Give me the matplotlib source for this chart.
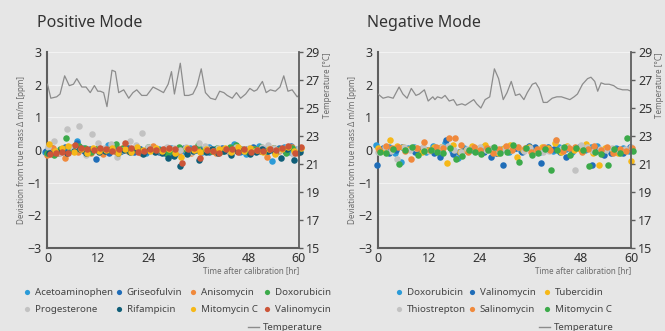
import numpy as np
import matplotlib
matplotlib.use("Agg")
import matplotlib.pyplot as plt
from matplotlib.lines import Line2D

plt.rcParams['font.family'] = ['Noto Sans', 'DejaVu Sans']

BG = '#e6e6e6'
TXT = '#333333'
LBL = '#6b6b6b'
AXC = '#5e5e5e'

# --- measurement times (hr) ---
HOURS = [0, 1.5, 3, 4.5, 6, 7.5, 9, 10.5, 12, 13.5,
         15, 16.5, 18, 19.5, 21, 22.5, 24, 25.5, 27, 28.5,
         30, 31.5, 33, 34.5, 36, 37.5, 39, 40.5, 42, 43.5,
         45, 46.5, 48, 49.5, 51, 52.5, 54, 55.5, 57, 58.5,
         60]

# --- Positive mode ---
POS_NAMES = ['Acetoaminophen', 'Griseofulvin', 'Anisomycin', 'Doxorubicin',
             'Progesterone', 'Rifampicin', 'Mitomycin C', 'Valinomycin']
POS_COLORS = ['#2b9bd8', '#1f6db8', '#f0893c', '#3caa4a',
              '#c2c2c2', '#0f5e78', '#f6b818', '#cc5538']
POS_OFFSET = [-0.5, -0.35, -0.2, -0.05, 0.1, 0.25, 0.4, 0.5]  # acquisition order within a cycle (hr)

pos_acetoaminophen = [-0.05, 0.02, -0.08, 0.05, 0.00, 0.28, 0.06, -0.02, 0.04, -0.06,
                      0.15, 0.00, -0.04, 0.05, -0.02, 0.03, -0.08, 0.00, 0.04, -0.03,
                      0.05, -0.10, -0.03, 0.06, 0.00, -0.05, 0.08, 0.02, -0.04, 0.03,
                      0.17, -0.06, -0.12, 0.05, 0.12, -0.02, -0.35, 0.04, 0.10, -0.05,
                      0.02]
pos_griseofulvin = [-0.02, 0.05, -0.06, 0.10, 0.02, 0.22, -0.04, 0.03, -0.27, 0.01,
                    -0.08, 0.04, -0.02, 0.06, -0.05, 0.02, -0.03, 0.05, -0.06, -0.10,
                    -0.15, 0.02, 0.05, -0.04, 0.00, 0.04, -0.06, 0.03, 0.06, -0.02,
                    0.05, -0.03, 0.02, 0.08, -0.04, 0.03, 0.00, 0.06, -0.02, 0.12,
                    -0.04]
pos_anisomycin = [-0.15, 0.05, -0.10, -0.25, 0.08, -0.05, 0.02, -0.08, 0.04, -0.12,
                  0.03, -0.06, 0.05, -0.02, 0.06, -0.08, 0.02, 0.12, -0.04, 0.06,
                  0.00, -0.05, 0.03, -0.08, 0.05, -0.03, 0.02, -0.10, 0.04, -0.06,
                  0.06, 0.02, -0.05, 0.03, -0.02, -0.20, 0.05, -0.04, 0.02, 0.08,
                  -0.10]
pos_doxorubicin = [-0.08, -0.15, 0.03, 0.38, 0.02, 0.12, 0.05, -0.05, 0.06, 0.02,
                   0.00, 0.18, 0.05, -0.03, 0.04, -0.02, 0.08, -0.04, 0.00, -0.12,
                   -0.05, 0.10, 0.02, -0.04, 0.14, 0.00, -0.03, 0.06, -0.02, 0.10,
                   0.14, 0.04, -0.06, 0.02, 0.08, -0.03, 0.05, 0.02, -0.10, 0.06,
                   0.00]
pos_progesterone = [0.10, 0.28, -0.10, 0.63, 0.05, 0.73, -0.15, 0.49, 0.20, 0.05,
                    0.18, -0.22, 0.00, 0.28, 0.15, 0.52, 0.08, 0.02, -0.05, 0.10,
                    0.05, 0.00, 0.08, -0.06, 0.22, 0.12, 0.02, 0.06, 0.00, -0.08,
                    0.10, 0.03, 0.05, -0.04, 0.08, 0.15, 0.06, 0.00, 0.10, -0.12,
                    0.05]
pos_rifampicin = [-0.10, -0.05, 0.00, -0.08, -0.02, 0.04, -0.10, 0.02, -0.06, -0.03,
                  0.02, -0.08, 0.00, -0.05, 0.03, -0.12, 0.00, -0.06, -0.10, -0.25,
                  -0.18, -0.50, -0.12, -0.02, -0.30, -0.05, 0.02, -0.08, -0.03, -0.15,
                  -0.04, 0.00, -0.12, -0.06, 0.02, -0.03, -0.08, -0.25, 0.03, -0.30,
                  -0.05]
pos_mitomycin = [0.18, -0.02, 0.06, 0.12, -0.05, 0.03, -0.10, 0.05, -0.04, 0.00,
                 0.06, -0.08, 0.02, -0.05, 0.08, 0.00, -0.03, 0.06, -0.02, 0.04,
                 -0.08, -0.20, 0.05, 0.00, -0.06, 0.03, -0.04, 0.02, 0.06, -0.05,
                 0.10, -0.03, 0.05, 0.00, -0.06, 0.02, -0.12, 0.04, 0.08, -0.02,
                 0.06]
pos_valinomycin = [-0.12, -0.10, -0.05, -0.08, 0.15, 0.05, 0.02, 0.00, 0.06, 0.02,
                   -0.02, 0.04, 0.20, 0.05, -0.06, -0.04, 0.03, 0.00, 0.02, 0.05,
                   0.04, -0.40, 0.02, 0.06, -0.25, 0.00, -0.04, -0.10, 0.04, 0.03,
                   -0.05, 0.02, -0.06, 0.00, -0.03, 0.02, 0.00, 0.05, 0.12, -0.08,
                   0.10]
POS_SERIES = [pos_acetoaminophen, pos_griseofulvin, pos_anisomycin, pos_doxorubicin,
              pos_progesterone, pos_rifampicin, pos_mitomycin, pos_valinomycin]

POS_TEMP_H = [0, 0.8, 2.2, 3.0, 4.1, 5.2, 6.2, 7.0, 8.2, 9.2, 10.2, 11.2, 12.0, 12.6,
              13.4, 14.2, 15.4, 16.2, 17.0, 18.2, 19.4, 20.4, 21.3, 22.5, 23.7, 25.2,
              26.5, 27.7, 28.8, 29.6, 30.3, 31.7, 32.7, 33.7, 34.7, 35.7, 36.7, 37.7,
              38.9, 40.1, 41.1, 42.1, 42.9, 44.1, 45.1, 46.1, 47.3, 48.3, 49.3, 50.0,
              51.3, 52.2, 53.2, 54.4, 55.5, 56.4, 57.4, 58.4, 59.6, 60]
POS_TEMP_C = [26.7, 25.7, 25.8, 26.0, 27.3, 26.6, 26.7, 27.1, 26.5, 26.5, 26.1, 26.6, 26.2, 26.2,
              26.1, 25.1, 27.7, 27.6, 26.1, 26.3, 25.7, 26.1, 26.3, 25.9, 25.9, 26.5,
              26.3, 26.1, 26.7, 27.6, 26.0, 28.2, 25.9, 25.9, 26.0, 26.6, 27.8, 26.1,
              25.7, 25.6, 26.2, 26.1, 25.9, 25.7, 26.1, 25.7, 26.0, 26.4, 26.2, 26.3,
              26.9, 26.1, 26.3, 26.2, 26.5, 27.3, 26.2, 26.3, 25.8, 25.9]

# --- Negative mode ---
NEG_NAMES = ['Doxorubicin', 'Valinomycin', 'Tubercidin',
             'Thiostrepton', 'Salinomycin', 'Mitomycin C']
NEG_COLORS = ['#2b9bd8', '#1f6db8', '#f6b818', '#c2c2c2', '#f0893c', '#3caa4a']
NEG_OFFSET = [-0.5, -0.3, -0.1, 0.1, 0.3, 0.5]

neg_doxorubicin = [0.15, 0.00, 0.10, -0.08, -0.38, 0.05, 0.08, 0.00, -0.05, 0.12,
                   0.05, 0.22, -0.02, -0.25, 0.05, 0.00, -0.04, 0.08, 0.02, -0.10,
                   0.03, -0.05, 0.06, -0.02, 0.10, 0.00, -0.06, 0.04, -0.03, 0.08,
                   0.02, -0.05, 0.05, 0.00, 0.08, 0.12, -0.04, 0.00, 0.06, 0.05,
                   -0.02]
neg_valinomycin = [-0.47, 0.05, -0.08, 0.00, 0.08, 0.03, -0.05, 0.02, 0.00, -0.10,
                   -0.22, 0.30, -0.12, -0.05, 0.00, 0.05, 0.02, -0.05, -0.20, -0.10,
                   -0.47, 0.00, 0.06, -0.05, 0.12, 0.10, -0.40, 0.08, 0.03, -0.06,
                   -0.22, 0.00, 0.10, 0.05, -0.45, 0.00, -0.15, -0.10, 0.02, -0.08,
                   0.08]
neg_tubercidin = [0.05, -0.02, 0.30, 0.12, 0.10, 0.02, 0.06, -0.05, 0.00, 0.08,
                  0.10, -0.40, 0.15, -0.05, 0.00, 0.12, 0.05, 0.14, 0.00, -0.08,
                  0.06, 0.15, -0.22, 0.00, 0.08, -0.04, 0.10, 0.05, 0.22, -0.05,
                  0.12, 0.00, 0.04, 0.18, -0.08, -0.45, 0.05, 0.02, -0.10, 0.00,
                  -0.35]
neg_thiostrepton = [-0.05, 0.10, -0.02, -0.28, 0.08, 0.00, 0.06, 0.10, -0.04, 0.02,
                    0.08, 0.12, 0.00, -0.05, 0.02, 0.06, 0.10, 0.00, 0.05, -0.06,
                    0.04, 0.00, 0.08, -0.02, 0.06, 0.00, -0.05, -0.02, 0.32, 0.05,
                    0.10, -0.62, 0.15, 0.08, -0.02, 0.04, 0.00, 0.06, -0.04, 0.02,
                    0.10]
neg_salinomycin = [0.00, 0.12, 0.05, 0.10, -0.04, -0.28, 0.06, 0.25, 0.00, 0.08,
                   0.05, 0.38, 0.38, 0.15, -0.05, 0.10, 0.00, 0.06, -0.08, 0.04,
                   0.12, 0.00, 0.10, 0.05, -0.06, 0.02, 0.08, 0.00, 0.30, -0.04,
                   0.06, 0.10, -0.05, 0.02, 0.12, 0.00, 0.08, -0.10, 0.04, -0.02,
                   0.05]
neg_mitomycin = [-0.05, -0.08, 0.02, -0.42, 0.00, 0.10, -0.15, -0.02, 0.00, -0.05,
                 -0.10, 0.05, -0.27, -0.18, 0.00, -0.05, -0.12, 0.00, 0.08, -0.10,
                 -0.05, 0.15, -0.38, 0.05, -0.15, -0.10, 0.02, -0.60, 0.00, 0.10,
                 -0.15, 0.05, 0.00, -0.50, -0.05, -0.12, -0.47, 0.02, -0.08, 0.38,
                 -0.02]
NEG_SERIES = [neg_doxorubicin, neg_valinomycin, neg_tubercidin,
              neg_thiostrepton, neg_salinomycin, neg_mitomycin]

NEG_TEMP_H = [0, 1.2, 2.4, 3.6, 5.0, 5.9, 6.9, 7.9, 9.0, 9.8, 11.0, 11.9, 13.0, 13.5,
              14.1, 15.1, 15.9, 16.9, 17.9, 18.7, 19.9, 20.7, 21.7, 22.7, 23.4, 24.4,
              25.4, 26.5, 27.6, 28.6, 29.7, 30.6, 31.6, 32.6, 33.6, 34.6, 35.4, 36.6,
              37.4, 38.2, 39.2, 40.1, 41.3, 42.4, 43.5, 44.5, 45.5, 46.5, 47.3, 48.5,
              49.7, 50.5, 51.4, 52.1, 52.9, 53.8, 54.8, 55.9, 56.8, 58.0, 59.2, 60]
NEG_TEMP_C = [26.0, 25.7, 25.8, 25.7, 26.5, 26.0, 25.7, 26.4, 25.9, 26.0, 26.3, 25.5, 25.8, 25.6,
              25.8, 25.7, 25.9, 25.5, 25.6, 25.2, 25.3, 25.2, 25.4, 25.6, 25.3, 25.0,
              25.6, 25.8, 27.8, 27.1, 25.6, 26.1, 26.9, 25.9, 26.0, 25.6, 26.1, 26.7,
              26.8, 26.4, 25.4, 25.4, 25.7, 25.8, 25.8, 25.7, 25.6, 25.8, 26.0, 26.7,
              27.1, 27.2, 26.9, 26.2, 26.8, 26.7, 26.7, 26.6, 26.4, 26.3, 26.3, 26.2]

TEMP_COLOR = '#8c8c8c'


def draw_panel(rect, title, names, colors, series, offsets, temp_h, temp_c):
    ax = fig.add_axes(rect)
    ax.set_facecolor(BG)
    for name, col, vals, off in zip(names, colors, series, offsets):
        ax.scatter(np.array(HOURS) + off, vals, s=22, color=col, lw=0,
                   label=name, clip_on=False, zorder=3)
    ax.set_xlim(0, 60)
    ax.set_ylim(-3, 3)
    ax.set_xticks([0, 12, 24, 36, 48, 60])
    ax.set_yticks([-3, -2, -1, 0, 1, 2, 3])
    ax.set_yticklabels(['\u22123', '\u22122', '\u22121', '0', '1', '2', '3'])
    ax.yaxis.grid(True, color='#f3f3f3', lw=0.8)
    ax.set_axisbelow(True)
    ax.tick_params(axis='both', labelsize=9, colors=TXT, length=0)
    ax.tick_params(axis='x', pad=3)
    ax.tick_params(axis='y', pad=4)
    for side in ['top', 'right']:
        ax.spines[side].set_visible(False)
    for side in ['left', 'bottom']:
        ax.spines[side].set_color(AXC)
        ax.spines[side].set_linewidth(1.5)
    ax.set_ylabel('Deviation from true mass \u0394 m/m [ppm]', fontsize=5.8,
                  color=LBL, labelpad=1)
    ax.set_xlabel('Time after calibration [hr]', fontsize=5.8, color=LBL,
                  loc='right', labelpad=1)

    ax2 = ax.twinx()
    ax2.plot(temp_h, temp_c, color=TEMP_COLOR, lw=0.9)
    ax2.set_ylim(15, 29)
    ax2.set_yticks([15, 17, 19, 21, 23, 25, 27, 29])
    ax2.tick_params(axis='y', labelsize=9, colors=TXT, length=3, width=1, pad=2)
    ax2.tick_params(axis='y', color=AXC)
    for side in ['top', 'left', 'bottom']:
        ax2.spines[side].set_visible(False)
    ax2.spines['right'].set_color(AXC)
    ax2.spines['right'].set_linewidth(1.3)
    ax2.set_ylabel('Temperature [\u00b0C]', fontsize=5.8, color=LBL, loc='top',
                   labelpad=2)

    fig.text(rect[0] - 10.5 / 665, 1 - 27 / 331, title, fontsize=11.5, color=TXT,
             va='baseline')
    return ax


fig = plt.figure(figsize=(6.65, 3.31), dpi=100, facecolor=BG)

ax_pos = draw_panel([0.0714, 0.2508, 0.378, 0.592], 'Positive Mode', POS_NAMES,
                    POS_COLORS, POS_SERIES, POS_OFFSET, POS_TEMP_H, POS_TEMP_C)
ax_neg = draw_panel([0.5684, 0.2508, 0.3805, 0.592], 'Negative Mode', NEG_NAMES,
                    NEG_COLORS, NEG_SERIES, NEG_OFFSET, NEG_TEMP_H, NEG_TEMP_C)


def add_legend(ax, ncol, col_x, top_y, temp_right):
    handles, labels = ax.get_legend_handles_labels()
    for j in range(ncol):
        fig.legend(handles[j::ncol], labels[j::ncol], loc='upper left',
                   bbox_to_anchor=(col_x[j] / 665, 1 - top_y / 331),
                   frameon=False, fontsize=7, handlelength=0.6,
                   handletextpad=0.5, borderpad=0, borderaxespad=0,
                   labelspacing=0.8, markerscale=0.8, labelcolor='#444444')
    th = Line2D([], [], color=TEMP_COLOR, lw=1.0)
    fig.legend([th], ['Temperature'], loc='upper right',
               bbox_to_anchor=(temp_right / 665, 1 - (top_y + 35) / 331),
               frameon=False, fontsize=7, handlelength=1.2, handletextpad=0.4,
               borderpad=0, borderaxespad=0, labelcolor='#444444')


add_legend(ax_pos, 4, [24.5, 116, 190, 264], 288, 323)
add_legend(ax_neg, 3, [396, 469, 544], 288, 614)

fig.savefig('out.png', dpi=100, facecolor=BG)
